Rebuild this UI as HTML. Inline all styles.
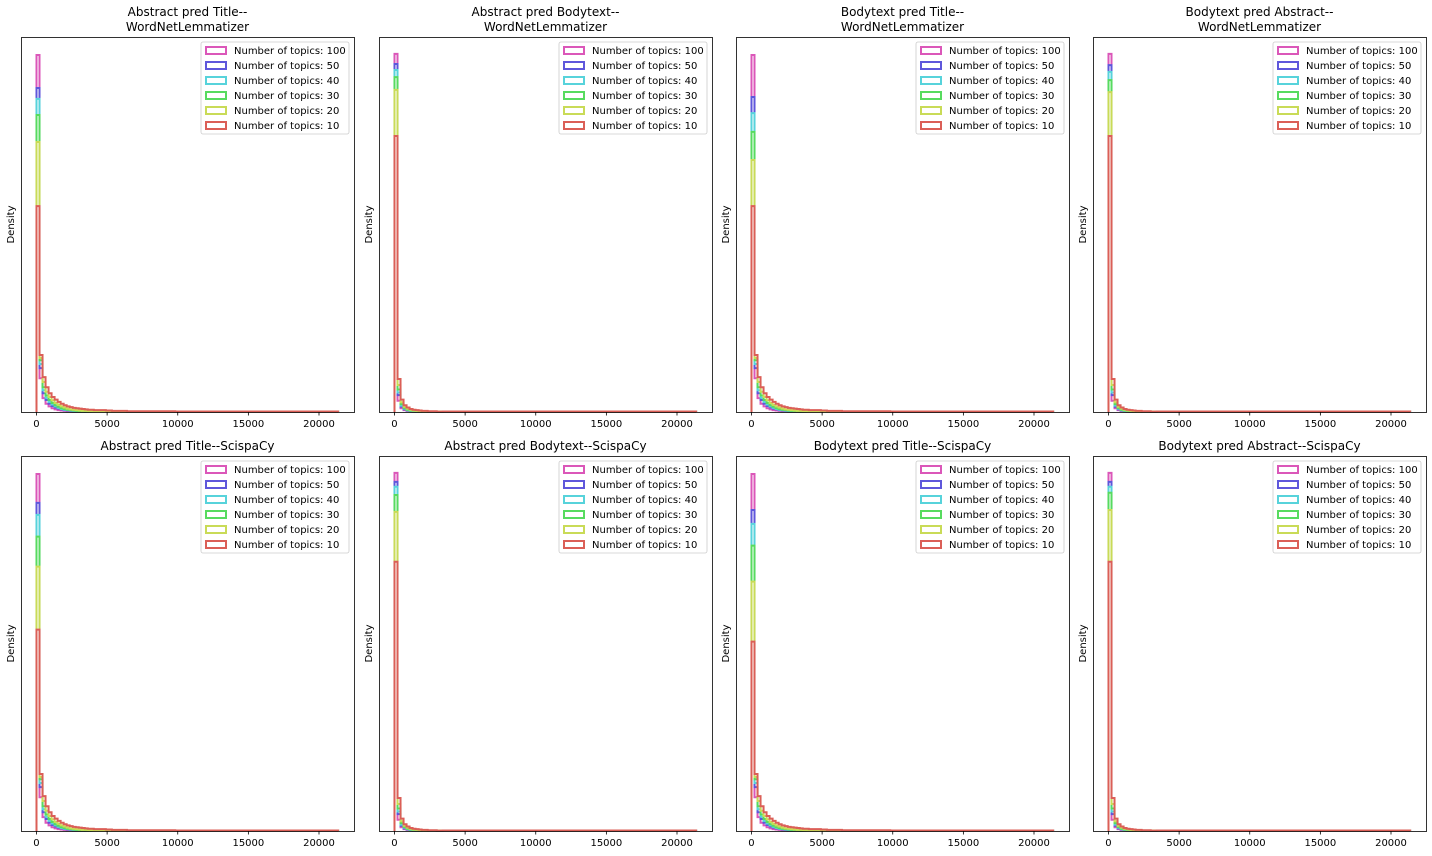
<!DOCTYPE html>
<html><head><meta charset="utf-8"><style>
body{margin:0;background:#fff;}
svg{display:block;font-family:"DejaVu Sans","Liberation Sans",sans-serif;}
</style></head><body>
<svg id="fig" width="1432" height="856"></svg>
<script>
const titles=[["Abstract pred Title--","WordNetLemmatizer"],["Abstract pred Bodytext--","WordNetLemmatizer"],["Bodytext pred Title--","WordNetLemmatizer"],["Bodytext pred Abstract--","WordNetLemmatizer"],
["Abstract pred Title--ScispaCy"],["Abstract pred Bodytext--ScispaCy"],["Bodytext pred Title--ScispaCy"],["Bodytext pred Abstract--ScispaCy"]];
const seriesLabels=["Number of topics: 100","Number of topics: 50","Number of topics: 40","Number of topics: 30","Number of topics: 20","Number of topics: 10"];
const seriesColors=["#db57b9","#5f57db","#57d3db","#57db5f","#c9db57","#db5f57"];
const xTicks=[0,5000,10000,15000,20000];
const binWidth=213.5;
const peaks=[
[0.952,0.864,0.835,0.792,0.720,0.549],
[0.955,0.928,0.912,0.893,0.859,0.736],
[0.952,0.840,0.797,0.747,0.672,0.549],
[0.955,0.925,0.907,0.885,0.853,0.736],
[0.952,0.875,0.843,0.785,0.705,0.537],
[0.955,0.931,0.918,0.896,0.851,0.718],
[0.952,0.856,0.819,0.761,0.665,0.505],
[0.955,0.931,0.918,0.902,0.856,0.718]];
const tailTitle100=[0.090,0.037,0.022,0.015,0.010,0.007,0.005,0.004,0.003,0.002,0.002,0.0015,0.001,0.001,0.001];
const tailTitle50=[0.117,0.050,0.032,0.022,0.016,0.012,0.009,0.007,0.005,0.004,0.003,0.002,0.002,0.0015,0.001,0.001];
const tailTitle40=[0.128,0.058,0.038,0.027,0.020,0.015,0.011,0.008,0.006,0.005,0.004,0.003,0.002,0.002,0.0015,0.001];
const tailTitle30=[0.138,0.066,0.044,0.032,0.024,0.018,0.014,0.010,0.008,0.006,0.005,0.004,0.003,0.002,0.002,0.0015,0.001];
const tailTitle20=[0.144,0.080,0.054,0.040,0.031,0.024,0.019,0.015,0.012,0.009,0.007,0.006,0.005,0.004,0.003,0.003,0.002,0.002];
const tailTitle10=[0.152,0.093,0.066,0.050,0.040,0.033,0.027,0.022,0.018,0.015,0.013,0.011,0.010,0.009,0.008,0.007,0.006,0.006,0.005,0.005,0.005,0.005,0.004,0.004,0.003,0.003,0.003,0.003,0.003,0.002,0.002,0.002,0.002,0.002,0.002,0.002,0.002,0.002,0.002,0.002,0.002,0.002,0.002,0.002,0.002];
const tailBody100=[0.030,0.010,0.005,0.003,0.002,0.001];
const tailBody50=[0.045,0.014,0.007,0.004,0.003,0.002,0.001];
const tailBody40=[0.052,0.017,0.009,0.005,0.003,0.002,0.001];
const tailBody30=[0.060,0.021,0.011,0.006,0.004,0.003,0.002,0.001];
const tailBody20=[0.072,0.026,0.014,0.009,0.006,0.004,0.003,0.002,0.002,0.001];
const tailBody10=[0.088,0.033,0.018,0.012,0.008,0.006,0.005,0.004,0.003,0.003,0.002,0.002,0.002,0.001,0.001];
const tailsTitle=[tailTitle100,tailTitle50,tailTitle40,tailTitle30,tailTitle20,tailTitle10];
const tailsBody=[tailBody100,tailBody50,tailBody40,tailBody30,tailBody20,tailBody10];
const panelType=["t","b","t","b","t","b","t","b"];

const NS="http://www.w3.org/2000/svg";
const fig=document.getElementById("fig");
function mk(tag,attrs,parent){const e=document.createElementNS(NS,tag);for(const k in attrs)e.setAttribute(k,attrs[k]);(parent||fig).appendChild(e);return e;}
const colX=[21,379,736,1093], axW=333;
const rowY=[37,456], axH=375;
const xMin=-1097, xMax=22478;
for(let p=0;p<8;p++){
  const c=p%4,r=Math.floor(p/4);
  const L=colX[c],T=rowY[r],B=T+axH,R=L+axW;
  const g=mk("g",{});
  
  
  const xs=v=>L+(v-xMin)/(xMax-xMin)*axW;
  const yh=v=>B-v*axH;
  const tails=panelType[p]==="t"?tailsTitle:tailsBody;
  for(let s=0;s<6;s++){
    const vals=[peaks[p][s]].concat(tails[s]);
    let d="M"+xs(0)+","+B;
    for(let i=0;i<vals.length;i++){
      const y=yh(vals[i]);
      d+=" L"+xs(i*binWidth)+","+y+" L"+xs((i+1)*binWidth)+","+y;
    }
    d+=" L"+xs(vals.length*binWidth)+","+(B-0.5)+" L"+xs(100*binWidth)+","+(B-0.5)+" L"+xs(100*binWidth)+","+B;
    const path=mk("path",{d:d,fill:"none",stroke:seriesColors[s],"stroke-width":2},g);
    
    
  }
  const frame=mk("rect",{x:L+0.5,y:T+0.5,width:axW,height:axH,fill:"none",stroke:"#000","stroke-width":0.8},g);
  
  
  for(const t of xTicks){
    const x=xs(t);
    mk("line",{x1:x,x2:x,y1:B,y2:B+3.5,stroke:"#000","stroke-width":0.8},g);
    const tl=mk("text",{x:x,y:B+15,"text-anchor":"middle","font-size":10},g);
    tl.textContent=t;
    
    
  }
  const yl=mk("text",{x:0,y:0,transform:"translate("+(L-7)+","+(T+axH/2)+") rotate(-90)","text-anchor":"middle","font-size":10},g);
  yl.textContent="Density";
  
  
  const tt=titles[p];
  tt.forEach((line,i)=>{
    const te=mk("text",{x:L+axW/2,y:T-(tt.length-i)*15+9,"text-anchor":"middle","font-size":12},g);
    te.textContent=line;
    
    
  });
  const lg=mk("g",{},g);
  
  
  mk("rect",{x:R-153,y:T+5,width:148,height:92,rx:2,fill:"#fff","fill-opacity":0.8,stroke:"#ccc","stroke-width":0.8},lg);
  for(let s=0;s<6;s++){
    const y=T+13+s*15;
    const e=mk("g",{},lg);
    
    
    mk("rect",{x:R-148,y:y-3,width:20,height:7,fill:"none",stroke:seriesColors[s],"stroke-width":2},e);
    const t=mk("text",{x:R-120,y:y+4,"font-size":10},e);
    t.textContent=seriesLabels[s];
  }
}
</script>
</body></html>
